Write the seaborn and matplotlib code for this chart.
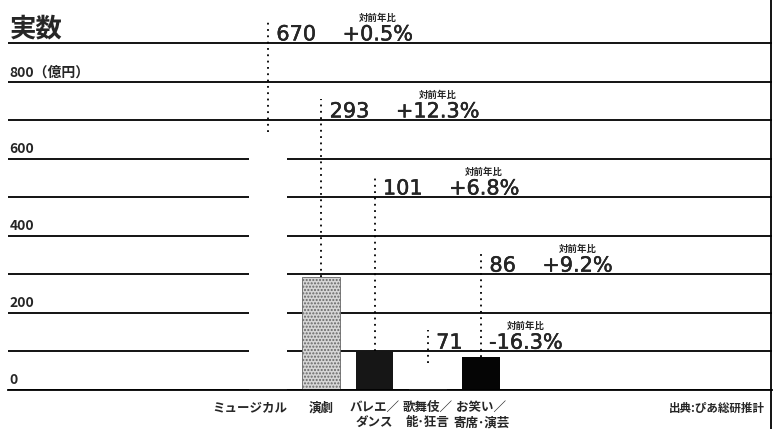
import numpy as np
import pandas as pd
import seaborn as sns
import matplotlib.pyplot as plt
import matplotlib.patheffects as pe
from matplotlib.lines import Line2D
from matplotlib.transforms import ScaledTranslation, blended_transform_factory

# data
categories = ["ミュージカル", "演劇", "バレエ／\nダンス", "歌舞伎／\n能･狂言", "お笑い／\n寄席･演芸"]
values = [670, 293, 101, 71, 86]
changes = ["+0.5%", "+12.3%", "+6.8%", "-16.3%", "+9.2%"]
label_rows = [900, 700, 500, 100, 300]
y_labels = {800: "800（億円）", 600: "600", 400: "400", 200: "200", 0: "0"}
bar_colors = ["white", "#d6d6d6", "#161616", "white", "#050505"]

df = pd.DataFrame({"genre": categories, "value": values})

sns.set_theme(style="white")
plt.rcParams['font.family'] = ['Noto Sans CJK JP', 'DejaVu Sans']

fig = plt.figure(figsize=(7.8, 4.29), dpi=100)
ax = fig.add_axes([8 / 780, 39 / 429, 764 / 780, 390 / 429])

sns.barplot(data=df, x="genre", y="value", hue="genre", palette=bar_colors,
            width=0.71, saturation=1, legend=False, linewidth=0, ax=ax)

# stippled bar for 演劇
p = ax.patches[1]
p.set_hatch(".....")
p.set_edgecolor("#666666")
p.set_linewidth(0.6)

ax.set_xlim(-4.88, 9.46)
ax.set_ylim(0, 1012)
ax.set_yticks(range(0, 1000, 100))
ax.set_yticklabels([])
ax.tick_params(axis="y", length=0)
ax.tick_params(axis="x", length=0, pad=8)
for lab in ax.get_xticklabels():
    lab.set_fontsize(9)
    lab.set_fontweight("bold")
ax.set_xlabel("")
ax.set_ylabel("")
ax.grid(axis="y", color="black", lw=1.3)
ax.set_axisbelow(True)
sns.despine(ax=ax, left=True, top=True, right=True)
ax.spines["bottom"].set_color("black")
ax.spines["bottom"].set_linewidth(1.3)

# shift first category label to the left like the original
lab0 = ax.get_xticklabels()[0]
lab0.set_transform(lab0.get_transform() + ScaledTranslation(-0.18, 0, fig.dpi_scale_trans))

# y labels sitting on the grid lines
trans = blended_transform_factory(ax.transAxes, ax.transData)
for val, txt in y_labels.items():
    ax.annotate(txt, xy=(0, val), xycoords=trans, xytext=(1, 4),
                textcoords="offset points", ha="left", va="baseline",
                fontsize=10, fontweight="bold")

# dotted leaders + value / change labels
heavy = [pe.withStroke(linewidth=0.3, foreground="black")]
for i, (v, row, ch) in enumerate(zip(values, label_rows, changes)):
    ax.plot([i, i], [v, row + 55], color="black", lw=1.3, ls=(0, (1, 2.5)),
            solid_capstyle="round", clip_on=False)
    t = ax.annotate(str(v), xy=(i, row), xytext=(6, 2), textcoords="offset points",
                    ha="left", va="baseline", fontsize=15, family="DejaVu Sans",
                    annotation_clip=False, path_effects=heavy)
    pc = ax.annotate(ch, xy=(1, 0), xycoords=t, xytext=(19, 0), textcoords="offset points",
                     ha="left", va="bottom", fontsize=15, family="DejaVu Sans",
                     path_effects=heavy)
    ax.annotate("対前年比", xy=(0.5, 1), xycoords=pc, xytext=(0, 1),
                textcoords="offset points", ha="center", va="bottom",
                fontsize=6.8, fontweight="bold")

fig.text(10 / 780, 1 - 29 / 429, "実数", fontsize=19, fontweight="bold", ha="left", va="center")
fig.text(765 / 780, 1 - 408 / 429, "出典:ぴあ総研推計", fontsize=8.3, fontweight="bold",
         ha="right", va="center")
fig.add_artist(Line2D([771 / 780, 771 / 780], [0, 1], transform=fig.transFigure,
                      color="black", lw=1.3))

fig.savefig("out.png", dpi=100)
